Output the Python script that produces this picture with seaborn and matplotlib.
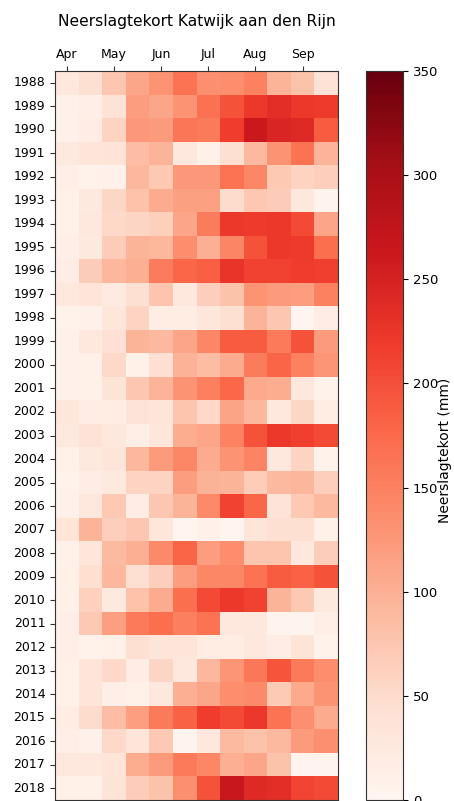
import numpy as np
import pandas as pd
import matplotlib
matplotlib.use("Agg")
import matplotlib.pyplot as plt
import seaborn as sns

years = list(range(1988, 2019))
month_labels = ["Apr", "May", "Jun", "Jul", "Aug", "Sep"]
periods = ["apr_1", "apr_2", "may_1", "may_2", "jun_1", "jun_2",
           "jul_1", "jul_2", "aug_1", "aug_2", "sep_1", "sep_2"]

# precipitation deficit (mm) per half-month period, years 1988..2018
apr_1 = [30, 10, 10, 25, 15, 12, 12, 15, 18, 28, 7, 9, 10, 10, 32, 25, 12, 8, 10, 35, 10, 12, 12, 15, 14, 12, 12, 20, 15, 28, 12]
apr_2 = [45, 15, 18, 33, 8, 25, 28, 25, 68, 35, 9, 28, 12, 11, 17, 40, 25, 17, 28, 95, 32, 46, 62, 72, 7, 35, 33, 48, 10, 28, 12]
may_1 = [75, 40, 58, 38, 10, 55, 53, 68, 92, 22, 32, 42, 53, 38, 20, 28, 33, 25, 72, 65, 88, 92, 25, 118, 12, 53, 15, 86, 53, 35, 38]
may_2 = [110, 120, 125, 85, 92, 80, 57, 95, 100, 45, 58, 95, 12, 75, 38, 16, 92, 58, 18, 74, 100, 45, 80, 158, 45, 17, 12, 118, 33, 103, 66]
jun_1 = [130, 110, 123, 95, 72, 105, 63, 92, 155, 76, 20, 90, 45, 95, 34, 32, 122, 58, 74, 32, 140, 65, 105, 170, 33, 57, 30, 158, 72, 122, 78]
jun_2 = [165, 130, 162, 28, 125, 117, 112, 138, 178, 28, 20, 112, 98, 130, 76, 103, 143, 120, 95, 3, 180, 120, 170, 153, 33, 30, 100, 182, 5, 158, 135]
jul_1 = [135, 168, 158, 12, 125, 117, 155, 100, 185, 65, 32, 143, 86, 153, 53, 112, 105, 98, 140, 9, 120, 143, 205, 165, 20, 91, 110, 218, 28, 143, 198]
jul_2 = [138, 198, 218, 45, 165, 48, 222, 145, 226, 78, 45, 190, 105, 177, 113, 148, 130, 95, 212, 4, 138, 143, 222, 28, 20, 128, 138, 205, 88, 100, 265]
aug_1 = [150, 222, 262, 90, 143, 73, 220, 198, 212, 130, 95, 190, 155, 108, 92, 198, 147, 66, 178, 35, 76, 165, 212, 30, 30, 160, 140, 222, 80, 112, 240]
aug_2 = [95, 235, 245, 130, 72, 67, 222, 222, 212, 122, 74, 158, 180, 103, 30, 222, 28, 90, 38, 45, 76, 190, 95, 5, 17, 195, 70, 165, 90, 78, 235]
sep_1 = [78, 222, 240, 165, 58, 30, 205, 220, 218, 120, 2, 198, 150, 28, 56, 215, 60, 93, 72, 45, 28, 182, 72, 5, 38, 158, 107, 135, 122, 5, 210]
sep_2 = [40, 220, 190, 95, 65, 5, 112, 170, 215, 150, 18, 122, 128, 7, 20, 205, 8, 65, 90, 12, 66, 198, 25, 16, 8, 138, 130, 105, 135, 5, 205]

df = pd.DataFrame({
    "apr_1": apr_1, "apr_2": apr_2, "may_1": may_1, "may_2": may_2,
    "jun_1": jun_1, "jun_2": jun_2, "jul_1": jul_1, "jul_2": jul_2,
    "aug_1": aug_1, "aug_2": aug_2, "sep_1": sep_1, "sep_2": sep_2,
}, index=years)[periods]

plt.rcParams["font.family"] = ["DejaVu Sans"]

fig = plt.figure(figsize=(4.54, 8.01), dpi=100)
ax = fig.add_axes([55 / 454, 1 - 800 / 801, (338 - 55) / 454, (800 - 71) / 801])
cax = fig.add_axes([366 / 454, 1 - 800 / 801, (403 - 366) / 454, (800 - 71) / 801])

sns.heatmap(df, ax=ax, cbar_ax=cax, cmap="Reds", vmin=0, vmax=350,
            cbar_kws={"label": "Neerslagtekort (mm)", "ticks": [0, 50, 100, 150, 200, 250, 300, 350]})

ax.xaxis.tick_top()
ax.set_xticks(np.arange(0, 12, 2) + 0.5)
ax.set_xticklabels(month_labels, rotation=0, fontsize=9)
ax.set_yticks(np.arange(len(years)) + 0.5)
ax.set_yticklabels([str(y) for y in years], rotation=0, fontsize=9)
ax.set_xlabel("")
ax.set_ylabel("")
ax.tick_params(length=3.5, width=0.8, color="#333333")
for s in ax.spines.values():
    s.set_visible(True)
    s.set_linewidth(0.8)
    s.set_color("#333333")

cb = ax.collections[0].colorbar
cb.outline.set_linewidth(0.8)
cb.outline.set_edgecolor("#333333")
cb.ax.tick_params(labelsize=9.5, length=3.5, width=0.8)
cb.ax.yaxis.label.set_size(10)
cb.ax.yaxis.set_label_coords((438 - 366) / 37, (800 - 450) / 729)

ax.set_title("Neerslagtekort Katwijk aan den Rijn", fontsize=11.2, pad=16)

fig.savefig("out.png", dpi=100)
